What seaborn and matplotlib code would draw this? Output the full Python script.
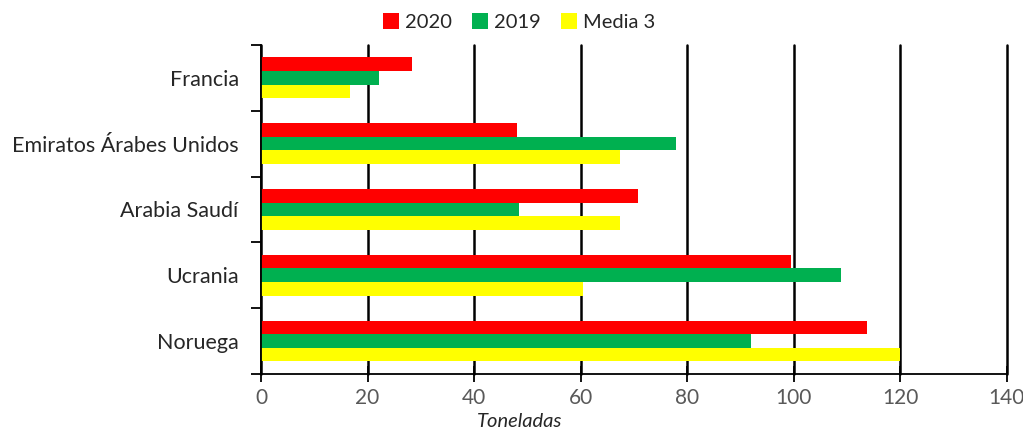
import pandas as pd
import numpy as np
import matplotlib
matplotlib.use('Agg')
import matplotlib.pyplot as plt
import seaborn as sns
from matplotlib.ticker import FixedLocator

# datos
paises = ['Francia', 'Emiratos Árabes Unidos', 'Arabia Saudí', 'Ucrania', 'Noruega']
series = ['2020', '2019', 'Media 3']
v2020 = [28.4, 48.0, 70.8, 99.5, 113.7]
v2019 = [22.2, 77.9, 48.4, 108.9, 92.0]
media3 = [16.8, 67.3, 67.3, 60.5, 120.0]
colores = ['#FF0000', '#00B050', '#FFFF00']

df = pd.DataFrame({
    'Pais': paises * 3,
    'Serie': [s for s in series for _ in paises],
    'Toneladas': v2020 + v2019 + media3,
})

sns.set_style('white')
plt.rcParams['font.family'] = ['Lato', 'DejaVu Sans']

fig = plt.figure(figsize=(10.23, 4.36), dpi=100)
ax = fig.add_axes([0.2551, 0.1422, 0.7292, 0.7546])

sns.barplot(data=df, y='Pais', x='Toneladas', hue='Serie', order=paises,
            hue_order=series, palette=colores, orient='h', width=0.62,
            saturation=1, linewidth=0, ax=ax, legend=True)

ax.set_xlim(0, 140)
ax.set_ylim(len(paises) - 0.5, -0.5)
ax.set_xticks(range(0, 141, 20))
ax.xaxis.grid(True, color='black', linewidth=1.8)
for gl in ax.get_xgridlines():
    gl.set_clip_on(False)
ax.set_axisbelow(True)

for side in ['top', 'right']:
    ax.spines[side].set_visible(False)
ax.spines['left'].set_color('black')
ax.spines['bottom'].set_color('black')
ax.spines['left'].set_linewidth(1.3)
ax.spines['bottom'].set_linewidth(1.3)

ax.tick_params(axis='x', direction='inout', length=12, width=1.3, color='black',
               labelcolor='#595959', labelsize=15, pad=4, bottom=True)
ax.tick_params(axis='y', which='major', length=0, labelsize=15.5, pad=16)
ax.yaxis.set_minor_locator(FixedLocator(np.arange(-0.5, len(paises), 1)))
ax.tick_params(axis='y', which='minor', length=7, width=1.3, color='black', left=True)

ax.set_ylabel('')
ax.set_xlabel('Toneladas', fontstyle='italic', fontsize=14.5)
ax.xaxis.set_label_coords(0.347, -0.118)

h, l = ax.get_legend_handles_labels()
ax.legend(h, l, loc='lower center', bbox_to_anchor=(0.346, 1.0), ncol=3, frameon=False,
          fontsize=14.5, handlelength=0.8, handleheight=0.8, handletextpad=0.3,
          columnspacing=1.0, borderaxespad=0.3)

fig.savefig('out.png', dpi=100)
